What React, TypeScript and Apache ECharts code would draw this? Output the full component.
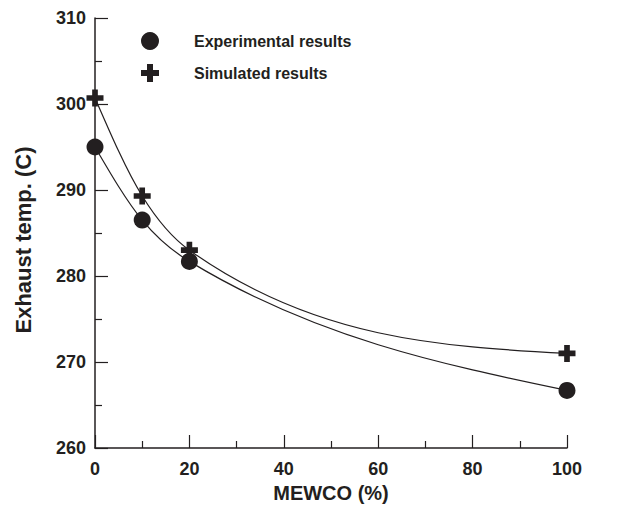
import React, { useEffect, useRef } from "react";
import * as echarts from "echarts";

const mewco = [0, 10, 20, 100];
const experimental = [295.0, 286.5, 281.7, 266.7];
const simulated = [300.7, 289.3, 283.0, 271.0];
const seriesNames = ["Experimental results", "Simulated results"];

const INK = "#231f20";
const PLUS = "path://M-1,-3H1V-1H3V1H1V3H-1V1H-3V-1H-1Z";
const FONT = "'Liberation Sans', Arial, Helvetica, sans-serif";

// Fritsch-Carlson monotone cubic tangents, used only to draw the smooth curve
function tangents(xs: number[], ys: number[]): number[] {
  const n = xs.length;
  const sec: number[] = [];
  for (let i = 0; i < n - 1; i++) sec.push((ys[i + 1] - ys[i]) / (xs[i + 1] - xs[i]));
  const m: number[] = new Array(n).fill(0);
  for (let i = 1; i < n - 1; i++) {
    m[i] = Math.sign(sec[i - 1]) === Math.sign(sec[i]) ? (sec[i - 1] + sec[i]) / 2 : 0;
  }
  m[0] = (3 * sec[0] - m[1]) / 2;
  m[n - 1] = (3 * sec[n - 2] - m[n - 2]) / 2;
  for (let i = 0; i < n - 1; i++) {
    if (sec[i] === 0) {
      m[i] = 0;
      m[i + 1] = 0;
      continue;
    }
    const a = m[i] / sec[i];
    const b = m[i + 1] / sec[i];
    const r = a * a + b * b;
    if (r > 9) {
      const t = 3 / Math.sqrt(r);
      m[i] = t * a * sec[i];
      m[i + 1] = t * b * sec[i];
    }
  }
  return m;
}

function curveRenderer(xs: number[], ys: number[]) {
  const m = tangents(xs, ys);
  return (params: any, api: any) => {
    if (params.dataIndex !== 0) return null;
    const p0 = api.coord([xs[0], ys[0]]);
    let d = `M${p0[0]},${p0[1]}`;
    for (let i = 0; i < xs.length - 1; i++) {
      const h = (xs[i + 1] - xs[i]) / 3;
      const c1 = api.coord([xs[i] + h, ys[i] + m[i] * h]);
      const c2 = api.coord([xs[i + 1] - h, ys[i + 1] - m[i + 1] * h]);
      const e = api.coord([xs[i + 1], ys[i + 1]]);
      d += ` C${c1[0]},${c1[1]} ${c2[0]},${c2[1]} ${e[0]},${e[1]}`;
    }
    return {
      type: "path",
      shape: { pathData: d },
      style: { fill: "none", stroke: INK, lineWidth: 1.2 },
    };
  };
}

export default function App() {
  const ref = useRef<HTMLDivElement>(null);
  useEffect(() => {
    if (!ref.current) return;
    const chart = echarts.init(ref.current, undefined, { renderer: "svg" });
    const pair = (ys: number[]) => mewco.map((x, i) => [x, ys[i]]);
    const axisCommon = {
      type: "value",
      nameLocation: "middle",
      axisLine: { show: true, lineStyle: { color: INK, width: 1.5 } },
      axisTick: { show: true, inside: true, length: 13, lineStyle: { color: INK, width: 1.2 } },
      minorTick: { show: true, splitNumber: 2, length: 7, lineStyle: { color: INK, width: 1.2 } },
      splitLine: { show: false },
    };
    chart.setOption({
      animation: false,
      backgroundColor: "#ffffff",
      textStyle: { fontFamily: FONT },
      grid: { left: 95, right: 64, top: 18, bottom: 61 },
      legend: {
        orient: "vertical",
        left: 136,
        top: 27,
        itemWidth: 18,
        itemHeight: 18,
        itemGap: 14,
        selectedMode: false,
        data: [
          { name: seriesNames[0], icon: "circle" },
          { name: seriesNames[1], icon: PLUS },
        ],
        textStyle: {
          fontFamily: FONT,
          fontWeight: "bold",
          fontSize: 16,
          color: INK,
          padding: [0, 0, 0, 30],
        },
      },
      xAxis: {
        ...axisCommon,
        min: 0,
        max: 100,
        interval: 20,
        name: "MEWCO (%)",
        nameGap: 30,
        nameTextStyle: { fontFamily: FONT, fontWeight: "bold", fontSize: 20, color: INK },
        axisLabel: { fontFamily: FONT, fontWeight: "bold", fontSize: 18, color: INK, margin: 12 },
      },
      yAxis: {
        ...axisCommon,
        min: 260,
        max: 310,
        interval: 10,
        name: "Exhaust temp. (C)",
        nameGap: 61,
        nameTextStyle: {
          fontFamily: FONT,
          fontWeight: "bold",
          fontSize: 22,
          color: INK,
          padding: [0, 14, 0, 0],
        },
        axisLabel: { fontFamily: FONT, fontWeight: "bold", fontSize: 18, color: INK, margin: 9 },
      },
      series: [
        {
          name: "exp-curve",
          type: "custom",
          renderItem: curveRenderer(mewco, experimental),
          data: pair(experimental),
          encode: { x: 0, y: 1 },
          silent: true,
          z: 2,
        },
        {
          name: "sim-curve",
          type: "custom",
          renderItem: curveRenderer(mewco, simulated),
          data: pair(simulated),
          encode: { x: 0, y: 1 },
          silent: true,
          z: 2,
        },
        {
          name: seriesNames[0],
          type: "scatter",
          data: pair(experimental),
          symbol: "circle",
          symbolSize: 17,
          itemStyle: { color: INK, opacity: 1 },
          z: 3,
        },
        {
          name: seriesNames[1],
          type: "scatter",
          data: pair(simulated),
          symbol: PLUS,
          symbolSize: 17,
          itemStyle: { color: INK, opacity: 1 },
          z: 3,
        },
      ],
    });
    return () => chart.dispose();
  }, []);
  return (
    <div
      ref={ref}
      style={{ position: "fixed", left: 0, top: 0, width: 631, height: 509 }}
    />
  );
}
